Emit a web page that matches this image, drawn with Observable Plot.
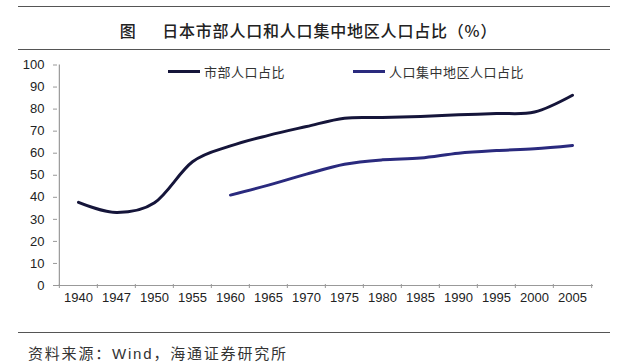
<!DOCTYPE html>
<html>
<head>
<meta charset="utf-8">
<script src="https://cdn.jsdelivr.net/npm/d3@7"></script>
<script src="https://cdn.jsdelivr.net/npm/@observablehq/plot@0.6"></script>
<style>
  html, body { margin: 0; padding: 0; background: #fff; }
  #wrap { position: relative; width: 617px; height: 363px; overflow: hidden; background: #fff; }
  .rule { position: absolute; left: 18px; width: 592px; height: 0; border-top: 1.5px solid #555; }
  #title { position: absolute; top: 20px; left: 0; width: 617px; text-align: center;
    font-family: "Noto Sans CJK SC", sans-serif; font-weight: 500; font-size: 16px; line-height: 20px;
    color: #222; letter-spacing: 0.8px; }
  #chart { position: absolute; left: 0; top: 55px; }
  .leg { position: absolute; top: 63px; height: 16px; display: flex; align-items: center;
    font-family: "Noto Sans CJK SC", sans-serif; font-size: 13px; color: #333; letter-spacing: 0.5px; }
  .leg span.sw { display: inline-block; width: 32px; height: 3px; margin-right: 4px; }
  #caption { position: absolute; top: 345px; left: 28px; font-family: "Noto Sans CJK SC", sans-serif;
    font-size: 15px; line-height: 16px; color: #333; letter-spacing: 1.8px; white-space: nowrap; }
  #caption .lat { font-family: "Liberation Sans", Arial, sans-serif; }
</style>
</head>
<body>
<div id="wrap">
  <div class="rule" style="top:6px"></div>
  <div id="title"></div>
  <div class="rule" style="top:49px"></div>
  <div id="chart"></div>
  <div id="legend"></div>
  <div class="rule" style="top:332px"></div>
  <div id="caption"></div>
</div>
<script>
// ---- data ----
const titleText = "图\u3000\u2002日本市部人口和人口集中地区人口占比（%）";
const seriesNames = ["市部人口占比", "人口集中地区人口占比"];
const years = ["1940","1947","1950","1955","1960","1965","1970","1975","1980","1985","1990","1995","2000","2005"];
const cityShare = [37.7, 33.1, 37.5, 56.1, 63.3, 68.1, 72.1, 75.9, 76.2, 76.7, 77.4, 78.0, 78.7, 86.3];
const didYears = ["1960","1965","1970","1975","1980","1985","1990","1995","2000","2005"];
const didShare = [41.0, 45.5, 50.5, 55.0, 57.0, 57.8, 60.0, 61.2, 62.0, 63.5];
const yTicks = [0,10,20,30,40,50,60,70,80,90,100];
const captionParts = ["资料来源：", "Wind", "，海通证券研究所"];
const colors = ["#15153a", "#2a2a7e"];

// ---- text ----
document.getElementById("title").textContent = titleText;
const cap = document.getElementById("caption");
cap.innerHTML = "";
const c1 = document.createElement("span"); c1.textContent = captionParts[0];
const c2 = document.createElement("span"); c2.textContent = captionParts[1]; c2.className = "lat";
const c3 = document.createElement("span"); c3.textContent = captionParts[2];
cap.append(c1, c2, c3);

const legend = document.getElementById("legend");
const legLeft = [168, 353];
seriesNames.forEach((n, i) => {
  const d = document.createElement("div");
  d.className = "leg";
  d.style.left = legLeft[i] + "px";
  const sw = document.createElement("span");
  sw.className = "sw";
  sw.style.background = colors[i];
  const t = document.createElement("span");
  t.textContent = n;
  d.append(sw, t);
  legend.append(d);
});

// ---- chart ----
const W = 617, H = 265, mL = 57, mR = 24, mT = 9.5, mB = 35;
const innerH = H - mT - mB;
const step = (W - mL - mR) / years.length;
const cityData = years.map((y, i) => ({year: y, v: cityShare[i]}));
const didData = didYears.map((y, i) => ({year: y, v: didShare[i]}));

const chart = Plot.plot({
  width: W, height: H,
  marginLeft: mL, marginRight: mR, marginTop: mT, marginBottom: mB,
  style: {fontFamily: "'Liberation Sans', Arial, sans-serif", fontSize: "13px", color: "#222", background: "transparent", overflow: "visible"},
  x: {type: "point", domain: years, padding: 0.5, label: null},
  y: {domain: [0, 100], label: null},
  marks: [
    Plot.ruleY([0], {stroke: "#999", strokeWidth: 1.2}),
    Plot.ruleX([years[0]], {dx: -step / 2, stroke: "#999", strokeWidth: 1.2}),
    Plot.axisY({ticks: yTicks, tickSize: 4, tickPadding: 9, stroke: "#999", fill: "#222", label: null}),
    Plot.axisX({tickSize: 0, tickPadding: 7, fill: "#222", label: null}),
    Plot.tickX(years, {x: d => d, dx: -step / 2, insetTop: innerH - 1, insetBottom: -3, stroke: "#999"}),
    Plot.tickX([years[years.length - 1]], {x: d => d, dx: step / 2, insetTop: innerH - 1, insetBottom: -3, stroke: "#999"}),
    Plot.line(cityData, {x: "year", y: "v", stroke: colors[0], strokeWidth: 3, curve: "cardinal"}),
    Plot.line(didData, {x: "year", y: "v", stroke: colors[1], strokeWidth: 3, curve: "cardinal"})
  ]
});
document.getElementById("chart").append(chart);
</script>
</body>
</html>
